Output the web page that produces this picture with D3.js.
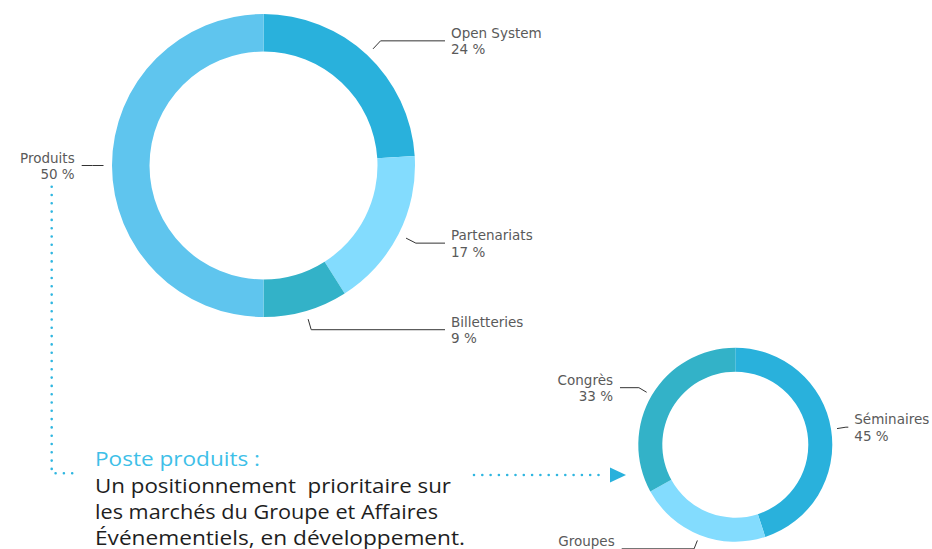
<!DOCTYPE html>
<html lang="fr">
<head>
<meta charset="UTF-8">
<title>Répartition</title>
<script src="https://cdn.jsdelivr.net/npm/d3@7"></script>
<style>
  body { margin: 0; background: #fff; }
  svg { display: block; overflow: hidden; }
  text { font-family: "Open Sans", "Noto Sans", sans-serif; }
  text.lbl { font-family: "DejaVu Sans", sans-serif; }
</style>
</head>
<body>
<svg id="chart" width="932" height="549"></svg>
<script>
// data
var bigLabels = ["Open System", "Partenariats", "Billetteries", "Produits"];
var bigValues = [24, 17, 9, 50];
var smallLabels = ["Séminaires", "Groupes", "Congrès"];
var smallValues = [45, 22, 33];
var noteTitle = "Poste produits :";
var noteLines = ["Un positionnement  prioritaire sur", "les marchés du Groupe et Affaires", "Événementiels, en développement."];

// colours
var colorScale = d3.scaleOrdinal()
    .domain(["Open System", "Partenariats", "Billetteries", "Produits", "Séminaires", "Groupes", "Congrès"])
    .range(["#29b1dc", "#83dcfe", "#33b2c8", "#5fc5ee", "#29b1dc", "#83dcfe", "#33b2c8"]);

var svg = d3.select("#chart");

function donut(labels, values, opt) {
    var data = labels.map(function(l, i) { return {label: l, value: values[i]}; });
    var pie = d3.pie().sort(null).value(function(d) { return d.value; });
    var arc = d3.arc().innerRadius(opt.inner).outerRadius(opt.outer);
    var g = svg.append("g").attr("transform", "translate(" + opt.cx + "," + opt.cy + ")");
    var arcs = pie(data);

    g.selectAll("path.slice")
        .data(arcs)
        .join("path")
        .attr("class", "slice")
        .attr("d", arc)
        .attr("fill", function(d) { return colorScale(d.data.label); });

    // leader lines + labels
    arcs.forEach(function(d, i) {
        var a = (d.startAngle + d.endAngle) / 2;
        var p1 = [Math.sin(a) * opt.r1, -Math.cos(a) * opt.r1];
        var p2 = [Math.sin(a) * opt.r2, -Math.cos(a) * opt.r2];
        var right = Math.sin(a) > 0;
        var endX = opt.endX[i] - opt.cx;
        g.append("polyline")
            .attr("points", [p1, p2, [endX, p2[1]]].map(function(p) { return p.join(","); }).join(" "))
            .attr("fill", "none")
            .attr("stroke", "#333")
            .attr("stroke-width", 1);
        var tx = right ? endX + 6 : endX - 7;
        var t = g.append("text")
            .attr("class", "lbl")
            .attr("text-anchor", right ? "start" : "end")
            .attr("font-size", 13.5)
            .attr("fill", "#5a5a5a");
        t.append("tspan").attr("x", tx).attr("y", p2[1] - 3).text(d.data.label);
        t.append("tspan").attr("x", tx).attr("y", p2[1] + 13.5).text(d.data.value + " %");
    });
}

donut(bigLabels, bigValues, {cx: 263.5, cy: 165.5, outer: 151.5, inner: 114, r1: 160, r2: 171,
    endX: [445, 445, 445, 81.7]});
donut(smallLabels, smallValues, {cx: 735.3, cy: 444.7, outer: 97, inner: 73, r1: 103, r2: 112,
    endX: [848.3, 621.7, 620]});

// dotted connector
var dotColor = "#2fb6e0";
svg.append("path")
    .attr("d", "M51.7,186.7 L51.7,473.3 L78,473.3")
    .attr("fill", "none")
    .attr("stroke", dotColor)
    .attr("stroke-width", 2.6)
    .attr("stroke-linecap", "round")
    .attr("stroke-dasharray", "0 8.3");

svg.append("path")
    .attr("d", "M474,475 L606,475")
    .attr("fill", "none")
    .attr("stroke", dotColor)
    .attr("stroke-width", 2.6)
    .attr("stroke-linecap", "round")
    .attr("stroke-dasharray", "0 8.3");

svg.append("path")
    .attr("d", "M610,467.5 L626,475 L610,482.5 Z")
    .attr("fill", "#29b1dc");

// note text (widths matched to the reference block)
var noteWidths = [356, 343, 370];
svg.append("text")
    .attr("x", 95).attr("y", 466)
    .attr("font-size", 20)
    .attr("fill", "#3ebfe8")
    .attr("textLength", 165)
    .attr("lengthAdjust", "spacingAndGlyphs")
    .text(noteTitle);

svg.append("g").selectAll("text")
    .data(noteLines)
    .join("text")
    .attr("x", 95)
    .attr("y", function(d, i) { return 493 + i * 25.8; })
    .attr("font-size", 20)
    .attr("fill", "#1e1e1e")
    .attr("textLength", function(d, i) { return noteWidths[i]; })
    .attr("lengthAdjust", "spacingAndGlyphs")
    .style("white-space", "pre")
    .text(function(d) { return d; });
</script>
</body>
</html>
